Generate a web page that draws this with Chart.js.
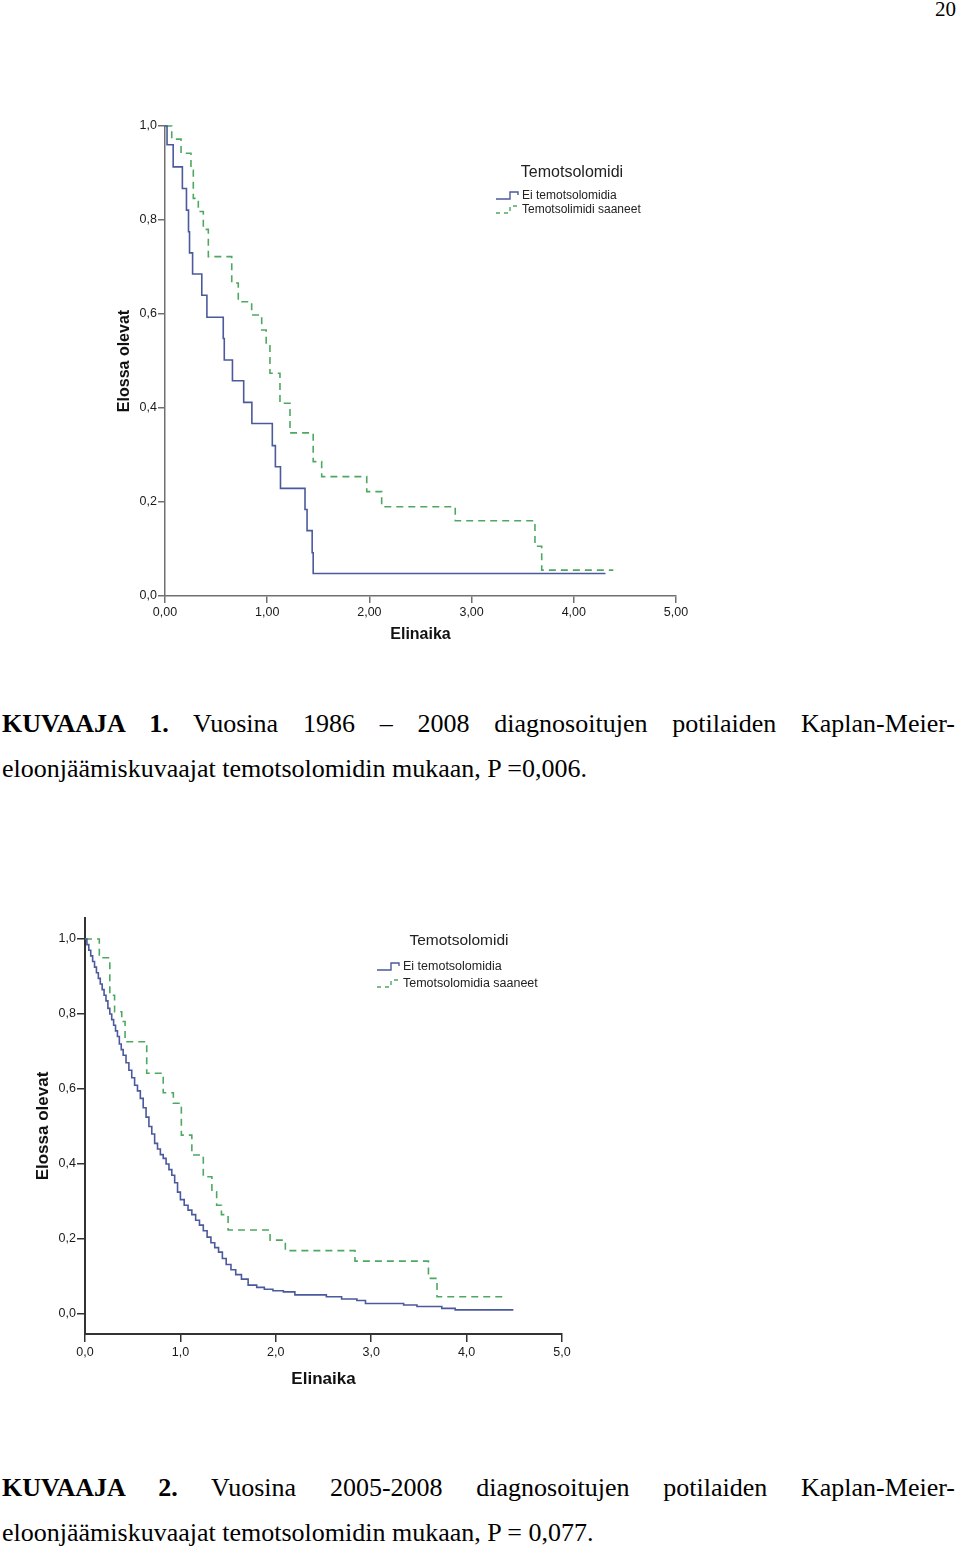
<!DOCTYPE html>
<html>
<head>
<meta charset="utf-8">
<script src="https://cdn.jsdelivr.net/npm/chart.js@4.4.0/dist/chart.umd.min.js"></script>
<style>
    body { margin: 0; background: #fff; width: 960px; height: 1549px; position: relative; overflow: hidden; }
    canvas { position: absolute; left: 0; }
    .pagenum { position: absolute; right: 4px; top: -3px; font-family: "Liberation Serif", serif; font-size: 21px; }
    .cap { position: absolute; left: 2px; width: 953px; font-family: "Liberation Serif", "Times New Roman", serif;
           font-size: 26px; line-height: 30px; color: #000; white-space: nowrap; }
    .just { text-align: justify; text-align-last: justify; white-space: normal; }
</style>
</head>
<body>
<div class="pagenum">20</div>

<canvas id="km1" width="720" height="660" style="top:0"></canvas>
<div class="cap just" style="top:709px"><b>KUVAAJA 1.</b> Vuosina 1986 – 2008 diagnosoitujen potilaiden Kaplan-Meier-</div>
<div class="cap" style="top:754px">eloonjäämiskuvaajat temotsolomidin mukaan, P =0,006.</div>

<canvas id="km2" width="620" height="520" style="top:880px"></canvas>
<div class="cap just" style="top:1473px"><b>KUVAAJA 2.</b> Vuosina 2005-2008 diagnosoitujen potilaiden Kaplan-Meier-</div>
<div class="cap" style="top:1518px">eloonjäämiskuvaajat temotsolomidin mukaan, P = 0,077.</div>

<script>
// ---- common ----
const xTicks = [0, 1, 2, 3, 4, 5];
const yTicks = [0, 0.2, 0.4, 0.6, 0.8, 1.0];
const legendTitle = 'Temotsolomidi';
const xTitle = 'Elinaika';
const yTitle = 'Elossa olevat';

// ---- KUVAAJA 1 (1986-2008) ----
const labels1 = ['Ei temotsolomidia', 'Temotsolimidi saaneet'];
const blueTime1 = [0, 0.02, 0.08, 0.17, 0.21, 0.23, 0.24, 0.27, 0.36, 0.41, 0.57, 0.58, 0.66, 0.77, 0.85, 1.05, 1.08, 1.13, 1.37, 1.39, 1.44, 1.45, 4.31];
const blueSurv1 = [1.0, 0.96, 0.913, 0.867, 0.821, 0.775, 0.73, 0.685, 0.64, 0.593, 0.548, 0.502, 0.458, 0.412, 0.367, 0.32, 0.275, 0.229, 0.184, 0.139, 0.092, 0.048, 0.048];
const greenTime1 = [0, 0.066, 0.157, 0.254, 0.277, 0.326, 0.375, 0.424, 0.653, 0.717, 0.848, 0.946, 0.99, 1.027, 1.125, 1.223, 1.45, 1.533, 1.974, 2.12, 2.84, 3.62, 3.686, 4.387];
const greenSurv1 = [1.0, 0.972, 0.942, 0.906, 0.846, 0.818, 0.78, 0.722, 0.666, 0.626, 0.598, 0.566, 0.534, 0.474, 0.41, 0.347, 0.286, 0.254, 0.222, 0.19, 0.16, 0.106, 0.055, 0.055];

// ---- KUVAAJA 2 (2005-2008) ----
const labels2 = ['Ei temotsolomidia', 'Temotsolomidia saaneet'];
const blueTime2 = [0, 0.02, 0.04, 0.06, 0.08, 0.10, 0.12, 0.14, 0.16, 0.18, 0.20, 0.22, 0.24, 0.26, 0.28, 0.30, 0.32, 0.34, 0.36, 0.38, 0.40, 0.43, 0.46, 0.49, 0.52, 0.55, 0.58, 0.61, 0.64, 0.67, 0.70, 0.73, 0.76, 0.79, 0.82, 0.85, 0.88, 0.91, 0.94, 0.97, 1.00, 1.04, 1.08, 1.12, 1.16, 1.20, 1.24, 1.28, 1.32, 1.36, 1.40, 1.44, 1.48, 1.53, 1.58, 1.64, 1.71, 1.80, 1.88, 1.97, 2.08, 2.20, 2.53, 2.69, 2.85, 2.94, 3.34, 3.48, 3.74, 3.88, 4.49];
const blueSurv2 = [1.0, 0.985, 0.97, 0.955, 0.94, 0.925, 0.91, 0.895, 0.88, 0.865, 0.85, 0.835, 0.815, 0.80, 0.785, 0.77, 0.755, 0.74, 0.72, 0.705, 0.69, 0.67, 0.65, 0.63, 0.61, 0.595, 0.575, 0.55, 0.525, 0.50, 0.48, 0.455, 0.44, 0.425, 0.415, 0.40, 0.385, 0.37, 0.35, 0.325, 0.305, 0.29, 0.277, 0.265, 0.25, 0.237, 0.222, 0.205, 0.19, 0.177, 0.165, 0.148, 0.132, 0.118, 0.105, 0.093, 0.077, 0.071, 0.066, 0.062, 0.059, 0.051, 0.046, 0.040, 0.036, 0.028, 0.024, 0.020, 0.015, 0.011, 0.011];
const greenTime2 = [0, 0.15, 0.26, 0.31, 0.385, 0.42, 0.647, 0.82, 0.926, 1.01, 1.12, 1.24, 1.33, 1.38, 1.43, 1.50, 1.94, 2.10, 2.83, 3.60, 3.69, 4.40];
const greenSurv2 = [1.0, 0.95, 0.85, 0.806, 0.78, 0.726, 0.642, 0.59, 0.562, 0.477, 0.424, 0.366, 0.326, 0.29, 0.265, 0.224, 0.197, 0.169, 0.141, 0.095, 0.046, 0.046];

const BLUE = '#4b5a9c';
const GREEN = '#4fa862';
const SANS = '"Liberation Sans", Arial, sans-serif';

const toPoints = (ts, ss) => ts.map((t, i) => ({ x: t, y: ss[i] }));

// legend with title and small step icons, drawn inside the plot
const kmLegend = {
    id: 'kmLegend',
    afterDraw(chart, args, opts) {
        const ctx = chart.ctx;
        const a = chart.chartArea;
        ctx.save();
        ctx.fillStyle = '#222';
        ctx.textBaseline = 'middle';
        ctx.textAlign = 'center';
        ctx.font = opts.titleSize + 'px ' + SANS;
        ctx.fillText(legendTitle, a.left + opts.titleX, a.top + opts.titleY);
        ctx.textAlign = 'left';
        ctx.font = opts.itemSize + 'px ' + SANS;
        chart.data.datasets.forEach((ds, i) => {
            const x = a.left + opts.itemX;
            const y = a.top + opts.itemY + i * opts.itemGap;
            ctx.fillStyle = '#222';
            ctx.fillText(ds.label, x, y);
            ctx.strokeStyle = ds.borderColor;
            ctx.lineWidth = 1.4;
            ctx.setLineDash(ds.borderDash ? [4, 4] : []);
            ctx.beginPath();
            ctx.moveTo(x - 26, y + 3);
            ctx.lineTo(x - 12, y + 3);
            ctx.lineTo(x - 12, y - 4);
            ctx.lineTo(x - 4, y - 4);
            ctx.lineTo(x - 4, y - 1);
            ctx.stroke();
        });
        ctx.restore();
    }
};

function makeChart(id, cfg) {
    const axisGrid = { drawOnChartArea: false, drawTicks: true, tickLength: cfg.tickLen, color: cfg.axisColor, lineWidth: 1.5 };
    const axisBorder = { display: true, color: cfg.axisColor, width: cfg.axisWidth };
    return new Chart(document.getElementById(id), {
        type: 'line',
        data: {
            datasets: [
                { label: cfg.labels[0], data: toPoints(cfg.blueT, cfg.blueS), borderColor: BLUE, borderWidth: 1.6,
                  stepped: true, pointRadius: 0, fill: false, clip: 6 },
                { label: cfg.labels[1], data: toPoints(cfg.greenT, cfg.greenS), borderColor: GREEN, borderWidth: 1.6,
                  borderDash: [7, 5], stepped: true, pointRadius: 0, fill: false, clip: 6 }
            ]
        },
        plugins: [kmLegend],
        options: {
            responsive: false,
            animation: false,
            layout: { padding: cfg.pad },
            plugins: { legend: { display: false }, tooltip: { enabled: false }, kmLegend: cfg.legend },
            scales: {
                x: {
                    type: 'linear', min: 0, max: 5,
                    afterBuildTicks: s => { s.ticks = xTicks.map(v => ({ value: v })); },
                    afterFit: s => { s.height = cfg.xH; },
                    grid: axisGrid, border: axisBorder,
                    ticks: { color: '#1a1a1a', padding: cfg.tickPad, maxRotation: 0, autoSkip: false,
                             font: { family: SANS, size: cfg.tickSize },
                             callback: v => v.toFixed(cfg.xDec).replace('.', ',') },
                    title: { display: true, text: xTitle, color: '#111', padding: 0,
                             font: { family: SANS, size: cfg.titleSize, weight: 'bold' } }
                },
                y: {
                    type: 'linear', min: cfg.yMin, max: cfg.yMax,
                    afterBuildTicks: s => { s.ticks = yTicks.map(v => ({ value: v })); },
                    afterFit: s => { s.width = cfg.yW; },
                    grid: axisGrid, border: axisBorder,
                    ticks: { color: '#1a1a1a', padding: 1, font: { family: SANS, size: cfg.tickSize },
                             callback: v => v.toFixed(1).replace('.', ',') },
                    title: { display: true, text: yTitle, color: '#111', padding: 0,
                             font: { family: SANS, size: cfg.titleSize, weight: 'bold' } }
                }
            }
        }
    });
}

makeChart('km1', {
    labels: labels1, blueT: blueTime1, blueS: blueSurv1, greenT: greenTime1, greenS: greenSurv1,
    pad: { left: 115, top: 126, right: 44, bottom: 16 },
    xH: 48, yW: 50, yMin: 0, yMax: 1.0, xDec: 2,
    tickLen: 7, tickPad: 2, tickSize: 12.5, titleSize: 16,
    axisColor: '#707070', axisWidth: 1.5,
    legend: { titleX: 407, titleY: 47, titleSize: 16, itemX: 357, itemY: 70, itemGap: 14, itemSize: 12 }
});

makeChart('km2', {
    labels: labels2, blueT: blueTime2, blueS: blueSurv2, greenT: greenTime2, greenS: greenSurv2,
    pad: { left: 33, top: 38, right: 58, bottom: 10 },
    xH: 56, yW: 52, yMin: -0.0533, yMax: 1.056, xDec: 1,
    tickLen: 8, tickPad: 3, tickSize: 12.5, titleSize: 17,
    axisColor: '#333', axisWidth: 2,
    legend: { titleX: 374, titleY: 23, titleSize: 15.5, itemX: 318, itemY: 49, itemGap: 17, itemSize: 12.5 }
});
</script>
</body>
</html>
